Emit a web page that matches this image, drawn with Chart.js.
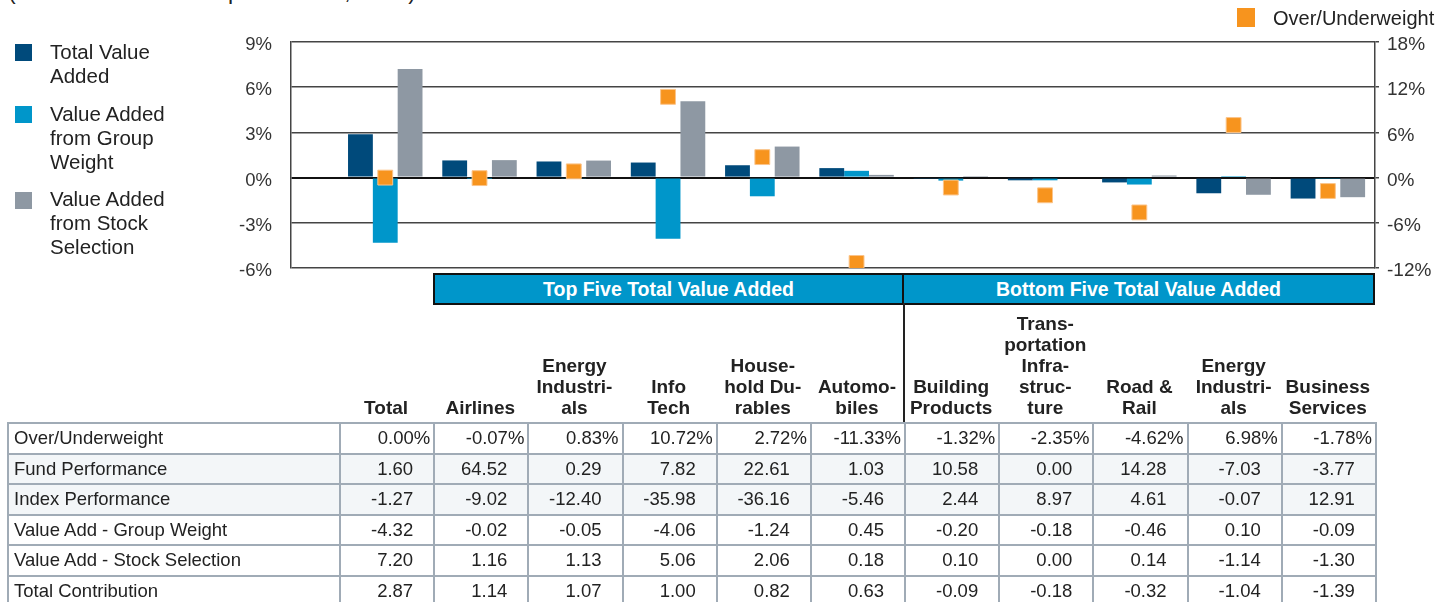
<!DOCTYPE html>
<html>
<head>
<meta charset="utf-8">
<script src="https://cdn.jsdelivr.net/npm/chart.js@4"></script>
<style>
  body { margin: 0; width: 1450px; height: 602px; overflow: hidden; background: #fff;
         font-family: "Liberation Sans", Arial, sans-serif; color: #222; position: relative; }
  .abs { position: absolute; }
  #title { left: 8px; top: -22px; font-size: 23px; white-space: nowrap; }
  #chartBox { left: 0; top: 0; width: 1450px; height: 300px; }
  .lg-box { position: absolute; width: 17px; height: 17px; }
  .lg-text { position: absolute; left: 50px; font-size: 20.5px; line-height: 24px; }
  .band { position: absolute; top: 273px; height: 28px; background: #0096ca; border: 2px solid #111;
          color: #fff; font-weight: bold; font-size: 19.5px; line-height: 29px; text-align: center; }
  #divider { left: 903px; top: 303px; width: 1.5px; height: 120px; background: #222; }
  #heads { left: 339px; top: 300px; height: 118px; display: flex; align-items: flex-end; }
  #heads div { width: 94.18px; text-align: center; font-weight: bold; font-size: 19px; line-height: 21px; white-space: pre; }
  #tbl { left: 7px; top: 422px; border-collapse: collapse; table-layout: fixed; width: 1368px; font-size: 18.5px; }
  #tbl td { border: 2px solid #a0abb6; height: 28.5px; padding: 0 20px 0 0; text-align: right; white-space: nowrap; }
  #tbl td.lab { text-align: left; padding: 0 0 0 5px; }
  #tbl tr.pct td { padding-right: 3px; }
  #tbl tr.pct td.lab { padding: 0 0 0 5px; }
  #tbl tr.shade td { background: #f3f6f8; }
</style>
</head>
<body>
<div id="title" class="abs">(12 months ended September 30, 2016)</div>

<div id="chartBox" class="abs"><canvas id="chart"></canvas></div>

<div class="lg-box" style="left:15px; top:44px; background:#004a7b"></div>
<div class="lg-text" style="top:40px">Total Value<br>Added</div>
<div class="lg-box" style="left:15px; top:106px; background:#0096ca"></div>
<div class="lg-text" style="top:102px">Value Added<br>from Group<br>Weight</div>
<div class="lg-box" style="left:15px; top:192px; background:#8e98a3"></div>
<div class="lg-text" style="top:187px">Value Added<br>from Stock<br>Selection</div>

<div class="lg-box" style="left:1237px; top:8px; width:18px; height:19px; background:#f7941e"></div>
<div class="lg-text" style="left:1273px; top:6px; font-size:20px">Over/Underweight</div>

<div class="band" style="left:433px; width:467px">Top Five Total Value Added</div>
<div class="band" style="left:902px; width:469px">Bottom Five Total Value Added</div>
<div id="divider" class="abs"></div>

<div id="heads" class="abs"></div>
<table id="tbl" class="abs"></table>

<script>
// categories and header text as printed (with hyphenation)
const categories = ['Total', 'Airlines', 'Energy Industrials', 'Info Tech', 'Household Durables',
  'Automobiles', 'Building Products', 'Transportation Infrastructure', 'Road & Rail',
  'Energy Industrials', 'Business Services'];
const headerLabels = ['Total', 'Airlines', 'Energy\nIndustri-\nals', 'Info\nTech', 'House-\nhold Du-\nrables',
  'Automo-\nbiles', 'Building\nProducts', 'Trans-\nportation\nInfra-\nstruc-\nture', 'Road &\nRail',
  'Energy\nIndustri-\nals', 'Business\nServices'];

const overUnderweight = [0.00, -0.07, 0.83, 10.72, 2.72, -11.33, -1.32, -2.35, -4.62, 6.98, -1.78];
const fundPerformance = [1.60, 64.52, 0.29, 7.82, 22.61, 1.03, 10.58, 0.00, 14.28, -7.03, -3.77];
const indexPerformance = [-1.27, -9.02, -12.40, -35.98, -36.16, -5.46, 2.44, 8.97, 4.61, -0.07, 12.91];
const valueAddGroupWeight = [-4.32, -0.02, -0.05, -4.06, -1.24, 0.45, -0.20, -0.18, -0.46, 0.10, -0.09];
const valueAddStockSelection = [7.20, 1.16, 1.13, 5.06, 2.06, 0.18, 0.10, 0.00, 0.14, -1.14, -1.30];
const totalContribution = [2.87, 1.14, 1.07, 1.00, 0.82, 0.63, -0.09, -0.18, -0.32, -1.04, -1.39];

const leftTicks = [-6, -3, 0, 3, 6, 9];
const rightTicks = [-12, -6, 0, 6, 12, 18];

// header labels above the table
const heads = document.getElementById('heads');
headerLabels.forEach(label => {
  const d = document.createElement('div');
  d.textContent = label;
  heads.appendChild(d);
});

// the data table
const rows = [
  ['Over/Underweight', overUnderweight, v => v.toFixed(2) + '%', 'pct'],
  ['Fund Performance', fundPerformance, v => v.toFixed(2), 'shade'],
  ['Index Performance', indexPerformance, v => v.toFixed(2), 'shade'],
  ['Value Add - Group Weight', valueAddGroupWeight, v => v.toFixed(2), ''],
  ['Value Add - Stock Selection', valueAddStockSelection, v => v.toFixed(2), ''],
  ['Total Contribution', totalContribution, v => v.toFixed(2), '']
];
const tbl = document.getElementById('tbl');
const colgroup = document.createElement('colgroup');
colgroup.innerHTML = '<col style="width:332px">' + categories.map(() => '<col style="width:94.18px">').join('');
tbl.appendChild(colgroup);
rows.forEach(([name, values, fmt, cls]) => {
  const tr = document.createElement('tr');
  if (cls) tr.className = cls;
  tr.innerHTML = '<td class="lab">' + name + '</td>' + values.map(v => '<td>' + fmt(v) + '</td>').join('');
  tbl.appendChild(tr);
});

// chart: x is a linear index scale (one empty slot on the left) so groups line up with the table columns
const toPoints = arr => arr.map((v, i) => ({ x: i, y: v }));

new Chart(document.getElementById('chart'), {
  data: {
    datasets: [
      {
        type: 'line',
        label: 'Over/Underweight',
        data: toPoints(overUnderweight),
        yAxisID: 'y2',
        showLine: false,
        pointStyle: 'rect',
        pointRadius: 10.5,
        pointBackgroundColor: '#f7941e',
        pointBorderColor: '#fbc48a',
        pointBorderWidth: 1,
        order: 0
      },
      {
        type: 'bar',
        label: 'Total Value Added',
        data: toPoints(totalContribution),
        backgroundColor: '#004a7b',
        yAxisID: 'y',
        order: 1
      },
      {
        type: 'bar',
        label: 'Value Added from Group Weight',
        data: toPoints(valueAddGroupWeight),
        backgroundColor: '#0096ca',
        yAxisID: 'y',
        order: 1
      },
      {
        type: 'bar',
        label: 'Value Added from Stock Selection',
        data: toPoints(valueAddStockSelection),
        backgroundColor: '#8e98a3',
        yAxisID: 'y',
        order: 1
      }
    ]
  },
  options: {
    responsive: true,
    maintainAspectRatio: false,
    animation: false,
    layout: { padding: { left: 231, right: 5, top: 42, bottom: 32 } },
    datasets: {
      bar: { categoryPercentage: 0.79, barPercentage: 1.0, borderWidth: 0 }
    },
    plugins: { legend: { display: false }, tooltip: { enabled: false } },
    scales: {
      x: {
        type: 'linear', min: -1, max: 10.5, offset: false, display: false,
        ticks: { stepSize: 1, includeBounds: false }
      },
      y: {
        position: 'left',
        min: leftTicks[0],
        max: leftTicks[leftTicks.length - 1],
        afterFit: scale => { scale.width = 60; },
        ticks: {
          stepSize: 3,
          padding: 19,
          labelOffset: 3,
          color: '#333',
          font: { family: 'Liberation Sans', size: 18.5 },
          callback: v => v + '%'
        },
        grid: {
          drawTicks: false,
          color: ctx => ctx.tick && ctx.tick.value === 0 ? '#111' : '#444',
          lineWidth: ctx => ctx.tick && ctx.tick.value === 0 ? 2 : 1.5
        },
        border: { display: true, color: '#444', width: 1.5 }
      },
      y2: {
        position: 'right',
        min: rightTicks[0],
        max: rightTicks[rightTicks.length - 1],
        afterFit: scale => { scale.width = 70; },
        ticks: {
          stepSize: 6,
          padding: 8,
          labelOffset: 3,
          color: '#333',
          font: { family: 'Liberation Sans', size: 19 },
          callback: v => v + '%'
        },
        grid: { drawOnChartArea: false, drawTicks: true, tickLength: 4, color: '#444', lineWidth: 1.5 },
        border: { display: true, color: '#444', width: 1.5 }
      }
    }
  }
});
</script>
</body>
</html>
